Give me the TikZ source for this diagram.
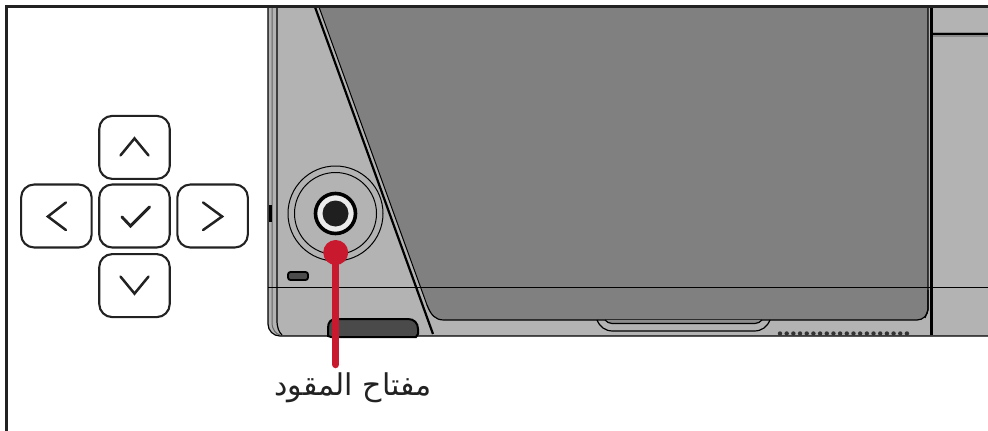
\documentclass[tikz,border=0pt]{standalone}
\usepackage{fontspec}
\usepackage{tikz}
\usetikzlibrary{positioning}
\TeXXeTstate=1
\newfontfamily\arabicfont[Script=Arabic]{DejaVu Sans}
\definecolor{bodygray}{HTML}{B3B3B3}
\definecolor{screengray}{HTML}{808080}
\definecolor{tabgray}{HTML}{4A4A4A}
\definecolor{leadred}{HTML}{C8192F}
\definecolor{framedark}{HTML}{222222}
\tikzset{
    keybtn/.style={rectangle, draw=framedark, line width=2.1pt, rounded corners=13pt, minimum width=70.5pt, minimum height=63pt, inner sep=0pt},
    chevron/.style={draw=framedark, line width=2.5pt, line cap=round, line join=miter},
    outline/.style={draw=black, line width=1.2pt},
    leadline/.style={draw=leadred, line width=7.5pt, line cap=round}
}
\begin{document}
\begin{tikzpicture}[x=1pt, y=-1pt]
    \useasboundingbox (0,0) rectangle (988,431);

    \path[fill=bodygray] (268,7) -- (988,7) -- (988,336) -- (280,336) arc[start angle=90, end angle=180, radius=12] -- cycle;
    \fill[screengray] (319,7) -- (928,7) -- (928,309) arc[start angle=0, end angle=90, radius=11] -- (444,320) .. controls (435,320) and (431,315) .. (427,305) -- cycle;
    \draw[outline] (928,7) -- (928,309) arc[start angle=0, end angle=90, radius=11] -- (444,320) .. controls (435,320) and (431,315) .. (427,305);

    \draw[outline] (268,7) -- (268,324) arc[start angle=180, end angle=90, radius=12] -- (988,336);
    \draw[draw=black!60, line width=1pt] (272,7) -- (272,322) .. controls (272,330) and (276,334) .. (280,335);
    \draw[outline] (277,7) -- (277,320) .. controls (277,328) and (279,332) .. (282,335);
    \draw[line width=2.2pt] (315,7) -- (433,334);
    \draw[line width=1pt] (319,7) -- (427,305);
    \draw[draw=black, line width=0.9pt] (268,287) -- (988,287);

    \draw[draw=black!45, line width=5pt] (932,34) -- (988,34);
    \draw[line width=1.8pt] (932,34) -- (988,34);
    \draw[line width=2.4pt] (931.5,7) -- (931.5,335);
    \draw[outline] (928,290) -- (928,310) -- (925,318);

    \draw[outline] (597,320) .. controls (600,327) and (605,331) .. (613,331) -- (754,331) .. controls (762,331) and (767,327) .. (770,320);
    \draw[outline, fill=black!45] (605,320) .. controls (607,322) and (609,323.5) .. (612,323.5) -- (755,323.5) .. controls (758,323.5) and (760,322) .. (762,320);
    \foreach \dotx in {0,...,19}
        \fill[black!80] (780+6.68*\dotx,333.5) circle[radius=2.2];

    \fill[black] (269,205) rectangle (271.5,222);
    \node (led) [rectangle, draw=black, fill=black!70, line width=1.8pt, rounded corners=2.5pt, minimum width=20pt, minimum height=8pt, inner sep=0pt] at (298,276) {};
    \node (ringout) [circle, draw=black, line width=1pt, minimum size=95pt, inner sep=0pt] at (335.5,213.5) {};
    \node (ringin) [circle, draw=black, line width=1pt, minimum size=82pt, inner sep=0pt] at (ringout.center) {};
    \node (knobrim) [circle, draw=black, fill=white!92!black, line width=3.6pt, minimum size=40pt, inner sep=0pt] at (ringout.center) {};
    \node (knob) [circle, fill=black!88, minimum size=26pt, inner sep=0pt] at (ringout.center) {};

    \draw[line width=2pt, fill=tabgray] (328,336) -- (328,328) .. controls (328,322) and (331,319) .. (336,319) -- (408,319) .. controls (414,319) and (418,323) .. (418,329) -- (418,334) -- (416,337) -- (331,337) -- cycle;

    \node (leaddot) [circle, fill=leadred, minimum size=25pt, inner sep=0pt] at (335.7,252.5) {};
    \coordinate (leadend) at (335.7,364.5);
    \draw[leadline] (leaddot.center) -- (leadend);
    \node (jogname) [font=\arabicfont\fontsize{30pt}{34pt}\selectfont, text=framedark, inner sep=0pt] at (353,388) {\beginR مفتاح المقود\endR};

    \draw[draw=framedark, line width=3pt] (988,6.3) -- (6.3,6.3) -- (6.3,431);

    \node (okkey) [keybtn] at (134.5,216) {};
    \node (upkey) [keybtn, above=3.5pt of okkey] {};
    \node (downkey) [keybtn, below=4.5pt of okkey] {};
    \node (leftkey) [keybtn, left=5.5pt of okkey] {};
    \node (rightkey) [keybtn, right=5.5pt of okkey] {};

    \draw[chevron] ([shift={(-14,8)}]upkey.center) -- ([shift={(0,-9)}]upkey.center) -- ([shift={(14,8)}]upkey.center);
    \draw[chevron] ([shift={(-14,-9)}]downkey.center) -- ([shift={(0,8)}]downkey.center) -- ([shift={(14,-9)}]downkey.center);
    \draw[chevron] ([shift={(9.5,-13.5)}]leftkey.center) -- ([shift={(-8.5,0.5)}]leftkey.center) -- ([shift={(9.5,14)}]leftkey.center);
    \draw[chevron] ([shift={(-9.5,-13.5)}]rightkey.center) -- ([shift={(9.5,0.5)}]rightkey.center) -- ([shift={(-9.5,14)}]rightkey.center);
    \draw[chevron, line width=2.9pt] ([shift={(-12.5,1)}]okkey.center) -- ([shift={(-4,10)}]okkey.center) -- ([shift={(15,-9)}]okkey.center);
\end{tikzpicture}
\end{document}
